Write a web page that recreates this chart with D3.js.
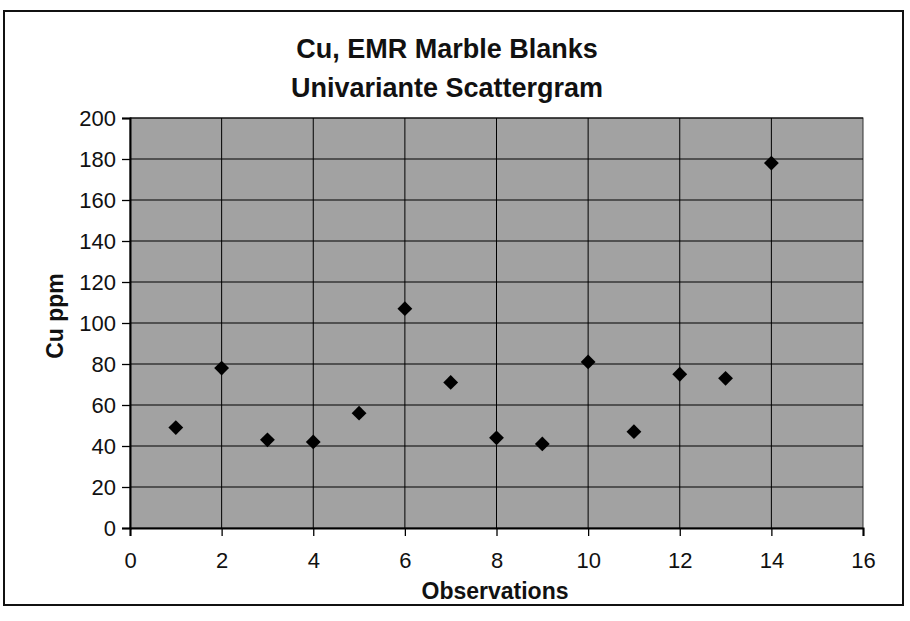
<!DOCTYPE html>
<html>
<head>
<meta charset="utf-8">
<script src="https://cdn.jsdelivr.net/npm/d3@7"></script>
<style>
  body { margin: 0; background: #fff; }
  text { font-family: "Liberation Sans", Arial, sans-serif; }
</style>
</head>
<body>
<script>
// values
var observations = [1, 2, 3, 4, 5, 6, 7, 8, 9, 10, 11, 12, 13, 14];
var cuPpm = [49, 78, 43, 42, 56, 107, 71, 44, 41, 81, 47, 75, 73, 178];
var xTicks = [0, 2, 4, 6, 8, 10, 12, 14, 16];
var yTicks = [0, 20, 40, 60, 80, 100, 120, 140, 160, 180, 200];

var W = 910, H = 621;
var margin = {top: 118, right: 47, bottom: 93, left: 130};

var svg = d3.select("body").append("svg")
  .attr("width", W)
  .attr("height", H);

// chart frame
svg.append("rect")
  .attr("x", 4).attr("y", 11)
  .attr("width", 899).attr("height", 594)
  .attr("fill", "#fff")
  .attr("stroke", "#111")
  .attr("stroke-width", 2);

var x = d3.scaleLinear().domain([0, 16]).range([margin.left, W - margin.right]);
var y = d3.scaleLinear().domain([0, 200]).range([H - margin.bottom, margin.top]);

// plot area
svg.append("rect")
  .attr("x", x(0)).attr("y", y(200))
  .attr("width", x(16) - x(0)).attr("height", y(0) - y(200))
  .attr("fill", "#a2a2a2")
  .attr("stroke", "#333")
  .attr("stroke-width", 1);

// gridlines
svg.append("g").selectAll("line")
  .data(yTicks.filter(function(d) { return d > 0; }))
  .enter().append("line")
  .attr("x1", x(0)).attr("x2", x(16))
  .attr("y1", function(d) { return y(d); })
  .attr("y2", function(d) { return y(d); })
  .attr("stroke", "#000").attr("stroke-width", 1);

svg.append("g").selectAll("line")
  .data(xTicks.filter(function(d) { return d > 0 && d < 16; }))
  .enter().append("line")
  .attr("y1", y(0)).attr("y2", y(200))
  .attr("x1", function(d) { return x(d); })
  .attr("x2", function(d) { return x(d); })
  .attr("stroke", "#000").attr("stroke-width", 1);

// axes
var xAxis = svg.append("g")
  .attr("transform", "translate(0," + y(0) + ")")
  .call(d3.axisBottom(x).tickValues(xTicks).tickSize(8).tickPadding(20));
var yAxis = svg.append("g")
  .attr("transform", "translate(" + x(0) + ",0)")
  .call(d3.axisLeft(y).tickValues(yTicks).tickSize(8).tickPadding(6));

[xAxis, yAxis].forEach(function(a) {
  a.attr("font-size", 22).attr("font-family", "'Liberation Sans', Arial, sans-serif");
  a.select(".domain").attr("stroke", "#000").attr("stroke-width", 2);
  a.selectAll(".tick line").attr("stroke", "#000").attr("stroke-width", 1.3);
  a.selectAll(".tick text").attr("fill", "#111");
});
xAxis.selectAll(".tick text").attr("dy", "0.55em");

// points
svg.append("g").selectAll("path")
  .data(observations)
  .enter().append("path")
  .attr("d", d3.symbol().type(d3.symbolSquare).size(110))
  .attr("transform", function(d, i) {
    return "translate(" + x(d) + "," + y(cuPpm[i]) + ") rotate(45)";
  })
  .attr("fill", "#000");

// titles
var title = svg.append("text")
  .attr("x", 447).attr("y", 58)
  .attr("text-anchor", "middle")
  .style("font-size", "27px")
  .style("font-weight", "bold")
  .attr("fill", "#111");
title.append("tspan").attr("x", 447).text("Cu, EMR Marble Blanks");
title.append("tspan").attr("x", 447).attr("dy", 39).text("Univariante Scattergram");

svg.append("text")
  .attr("x", 495).attr("y", 599)
  .attr("text-anchor", "middle")
  .style("font-size", "23px")
  .style("font-weight", "bold")
  .attr("fill", "#111")
  .text("Observations");

svg.append("text")
  .attr("transform", "translate(63,316) rotate(-90)")
  .attr("text-anchor", "middle")
  .style("font-size", "23px")
  .style("font-weight", "bold")
  .attr("fill", "#111")
  .text("Cu ppm");
</script>
</body>
</html>
